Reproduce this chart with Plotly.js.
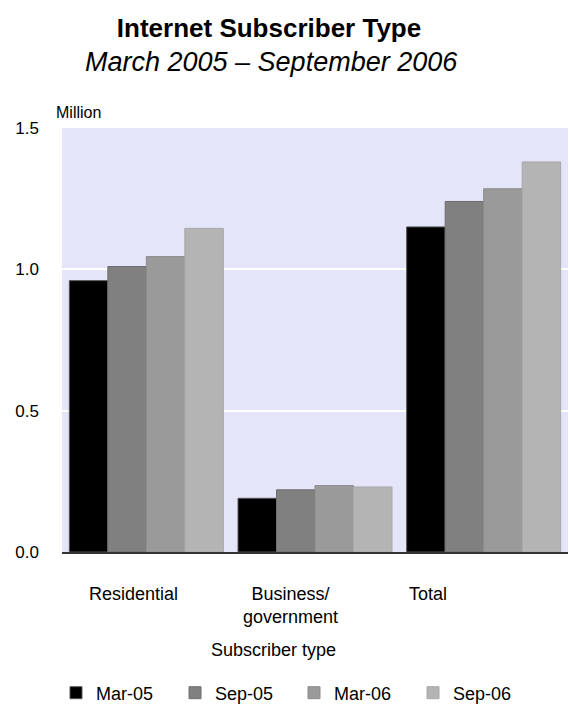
<!DOCTYPE html>
<html>
<head>
<meta charset="utf-8">
<script src="https://cdn.plot.ly/plotly-3.0.1.min.js"></script>
<style>html,body{margin:0;padding:0;background:#fff;}#chart{width:570px;height:708px;}</style>
</head>
<body>
<div id="chart"></div>
<script>
const categories = ["Residential", "Business/<br>government", "Total"];
const seriesNames = ["Mar-05", "Sep-05", "Mar-06", "Sep-06"];
const mar05 = [0.96, 0.19, 1.15];
const sep05 = [1.01, 0.22, 1.24];
const mar06 = [1.045, 0.235, 1.285];
const sep06 = [1.145, 0.23, 1.38];
const yTicks = [0, 0.5, 1.0, 1.5];

const seriesValues = [mar05, sep05, mar06, sep06];
const colors = ["#000000", "#808080", "#9a9a9a", "#b4b4b4"];
const outline = ["#555555", "#6e6e6e", "#8c8c8c", "#a8a8a8"];
const labelShift = [-13, -25, -56];

const font = "Liberation Sans, Arial, sans-serif";

const traces = seriesValues.map((vals, i) => ({
  type: "bar",
  name: seriesNames[i],
  x: categories,
  y: vals,
  marker: {color: colors[i], line: {color: outline[i], width: 1}},
  hoverinfo: "skip"
}));

const annotations = categories.map((c, i) => ({
  xref: "x", yref: "paper", x: c, y: -0.07, yanchor: "top", xanchor: "center",
  xshift: labelShift[i], text: c, showarrow: false,
  font: {family: font, size: 18, color: "#000"}, align: "center"
}));
annotations.push({
  xref: "paper", yref: "paper", x: (271 - 62) / 506, y: (552 - 62) / 424,
  xanchor: "center", yanchor: "middle", showarrow: false,
  text: "<i>March 2005 – September 2006</i>",
  font: {family: font, size: 27, color: "#000"}
});
annotations.push({
  xref: "paper", yref: "paper", x: (54 - 62) / 506, y: (552 - 112) / 424,
  xanchor: "left", yanchor: "middle", showarrow: false,
  text: "Million", font: {family: font, size: 16, color: "#000"}
});
annotations.push({
  xref: "paper", yref: "paper", x: (273 - 62) / 506, y: (552 - 650) / 424,
  xanchor: "center", yanchor: "middle", showarrow: false,
  text: "Subscriber type", font: {family: font, size: 18, color: "#000"}
});

const layout = {
  width: 570, height: 708,
  margin: {l: 62, r: 2, t: 128, b: 156},
  paper_bgcolor: "#ffffff",
  plot_bgcolor: "#e5e5fa",
  bargap: 0.087,
  bargroupgap: 0,
  barmode: "group",
  title: {
    text: "<b>Internet Subscriber Type</b>",
    x: 269 / 570, xanchor: "center",
    y: 1 - 28 / 708, yanchor: "middle", yref: "container",
    font: {family: font, size: 26, color: "#000"}
  },
  xaxis: {
    showticklabels: false, ticks: "",
    showline: true, linecolor: "#333333", linewidth: 2,
    showgrid: false, zeroline: false
  },
  yaxis: {
    range: [0, 1.5], tickvals: yTicks, tickformat: ".1f",
    showgrid: true, gridcolor: "#ffffff", gridwidth: 2,
    zeroline: false, showline: false, ticks: "",
    ticklabelstandoff: 22,
    tickfont: {family: font, size: 17, color: "#000"}
  },
  showlegend: true,
  legend: {
    orientation: "h", xref: "container", x: 56 / 570, xanchor: "left",
    yref: "container", y: 1 - 693 / 708, yanchor: "middle",
    font: {family: font, size: 18, color: "#000"},
    entrywidth: 74, traceorder: "normal", itemclick: false
  },
  annotations: annotations
};

Plotly.newPlot("chart", traces, layout, {displayModeBar: false, staticPlot: true});
</script>
</body>
</html>
